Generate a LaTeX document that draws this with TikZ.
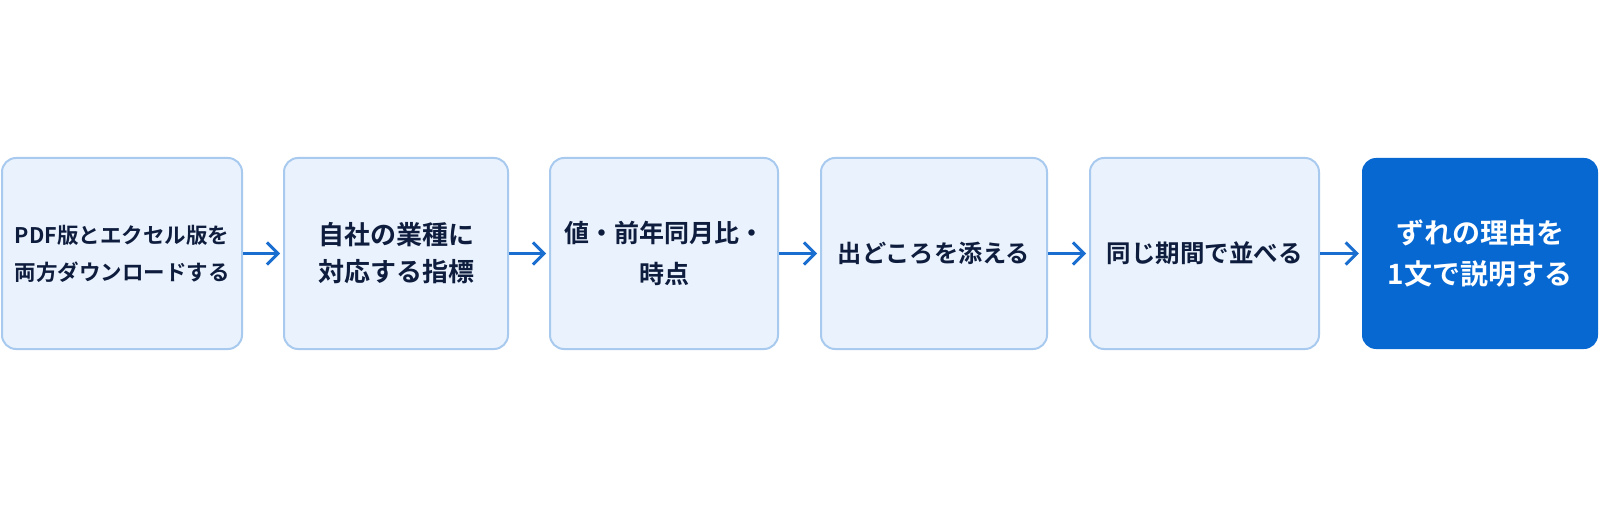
\documentclass[tikz,border=0pt]{standalone}
\usepackage{fontspec}
\newfontfamily\jp{Noto Sans CJK JP}[BoldFont={* Bold}]
\usetikzlibrary{arrows.meta}
\definecolor{boxfill}{HTML}{EAF3FD}
\definecolor{boxline}{HTML}{A9CAEF}
\definecolor{darkfill}{HTML}{0768D2}
\definecolor{textnavy}{HTML}{0E1C3D}
\definecolor{arrowblue}{HTML}{1A6ED0}
\begin{document}
\begin{tikzpicture}[x=1pt,y=1pt,
  stepbox/.style={draw=boxline, fill=boxfill, line width=2pt, rounded corners=14pt,
    minimum height=191pt, inner sep=0pt, align=center, text=textnavy},
  finalbox/.style={fill=darkfill, rounded corners=14pt,
    minimum height=191pt, inner sep=0pt, align=center, text=white},
  fs/.style 2 args={font=\jp\bfseries\fontsize{#1}{#2}\selectfont},
  flow/.style={draw=arrowblue, line width=3pt,
    -{Straight Barb[length=11pt,width=22pt,line width=3pt]}, shorten >=3pt}]
\useasboundingbox (0,0) rectangle (1600,509);
\fill[white] (0,0) rectangle (1600,509);
\node[stepbox, fs={21.5}{37}, minimum width=240pt] (b1) at (122,255.5)
  {PDF版とエクセル版を\\両方ダウンロードする};
\node[stepbox, fs={26}{37}, minimum width=224pt] (b2) at (396,255.5)
  {自社の業種に\\対応する指標};
\node[stepbox, fs={25}{41}, minimum width=228pt] (b3) at (664,255.5)
  {値・前年同月比・\\時点};
\node[stepbox, fs={24.2}{36}, minimum width=226pt] (b4) at (934,255.5)
  {出どころを添える};
\node[stepbox, fs={24.5}{36}, minimum width=229pt] (b5) at (1204.5,255.5)
  {同じ期間で並べる};
\node[finalbox, fs={28}{41}, minimum width=236pt] (b6) at (1480,255.5)
  {ずれの理由を\\1文で説明する};
\draw[flow] (b1.east) -- (b2.west);
\draw[flow] (b2.east) -- (b3.west);
\draw[flow] (b3.east) -- (b4.west);
\draw[flow] (b4.east) -- (b5.west);
\draw[flow] (b5.east) -- (b6.west);
\end{tikzpicture}
\end{document}
